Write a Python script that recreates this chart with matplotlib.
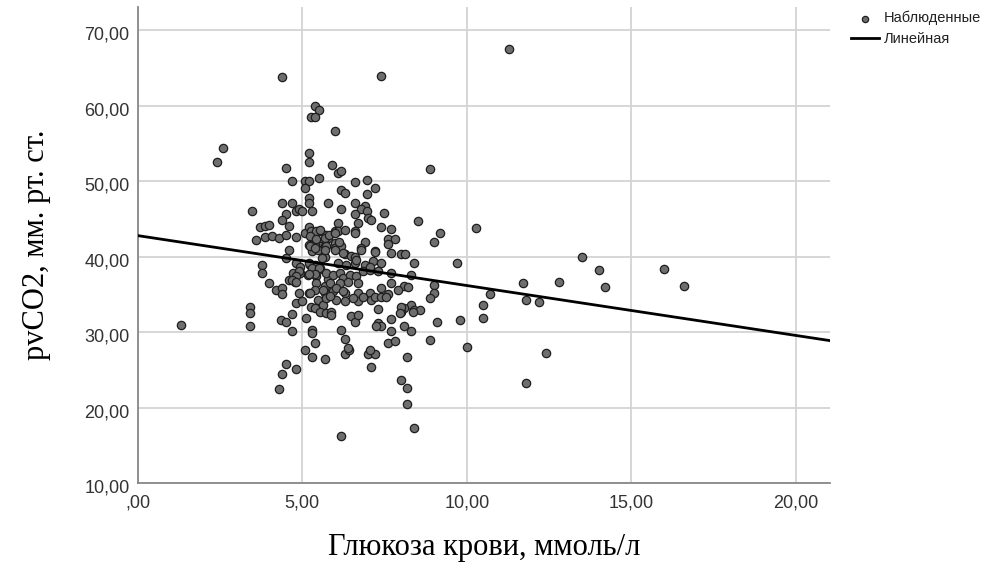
import numpy as np
import matplotlib
matplotlib.use("Agg")
import matplotlib.pyplot as plt
from matplotlib.ticker import FuncFormatter
from matplotlib.transforms import ScaledTranslation

# blood glucose, mmol/l
glucose = [
    1.30, 2.40, 2.60, 3.40, 3.40, 3.40, 3.48, 3.58, 3.70, 3.86, 3.99, 3.78, 3.78, 3.88, 4.09, 3.99,
    4.19, 4.39, 4.39, 4.29, 4.49, 4.80, 4.39, 7.40, 11.29, 5.40, 5.51, 5.27, 5.40, 5.99, 5.19, 5.19,
    4.49, 5.89, 6.09, 6.19, 5.50, 5.09, 5.19, 4.70, 5.09, 6.59, 6.98, 7.20, 6.98, 6.19, 6.30, 8.89,
    4.39, 4.70, 5.19, 5.19, 5.79, 6.19, 6.59, 6.89, 6.79, 6.98, 7.49, 4.49, 4.80, 4.90, 5.00, 5.29,
    4.39, 6.59, 6.69, 6.99, 7.10, 8.50, 7.40, 7.68, 9.19, 8.99, 10.29, 6.09, 5.98, 6.08, 6.29, 6.59,
    6.59, 5.53, 5.73, 5.78, 5.63, 5.53, 5.68, 5.98, 5.98, 6.18, 6.89, 6.79, 7.20, 7.60, 7.81, 7.60,
    7.70, 8.01, 8.11, 6.29, 6.49, 6.59, 8.38, 9.69, 8.30, 8.10, 8.99, 8.99, 8.89, 11.70, 12.79, 13.49,
    14.00, 14.20, 15.99, 16.59, 10.69, 11.80, 12.19, 10.50, 10.50, 9.79, 9.09, 8.30, 8.10, 8.00, 8.38, 8.59,
    8.10, 8.30, 8.89, 9.99, 12.39, 8.19, 8.01, 8.19, 8.19, 8.38, 11.79, 6.19, 4.49, 4.39, 4.80, 4.29,
    5.09, 5.39, 5.29, 5.70, 6.29, 6.29, 6.41, 6.99, 7.20, 7.10, 7.60, 7.81, 4.36, 4.49, 4.70, 4.70,
    4.80, 4.90, 5.00, 5.20, 5.10, 5.30, 5.30, 4.59, 4.49, 4.82, 4.92, 4.71, 4.61, 4.77, 4.92, 5.22,
    5.37, 5.47, 5.17, 5.43, 5.43, 5.37, 5.22, 5.47, 5.63, 5.68, 5.27, 5.37, 5.53, 5.73, 5.68, 5.78,
    5.68, 5.98, 6.79, 7.20, 6.08, 6.34, 6.59, 6.89, 7.15, 7.40, 5.53, 5.73, 5.93, 6.13, 6.23, 6.44,
    6.64, 6.84, 7.05, 7.30, 7.70, 5.83, 6.13, 6.39, 6.69, 5.63, 5.93, 6.29, 6.69, 7.05, 7.40, 7.70,
    7.91, 8.21, 5.73, 6.03, 6.29, 6.69, 7.10, 7.20, 7.40, 7.60, 5.88, 5.88, 7.30, 8.01, 7.96, 8.36,
    6.49, 6.59, 6.69, 7.70, 7.30, 7.40, 7.25, 6.18, 7.70, 6.39, 7.05, 4.59, 5.09, 5.29, 5.19, 5.30,
    5.19, 5.40, 5.29, 5.70, 5.80, 6.00, 6.10, 5.47, 5.60, 5.19, 5.29, 5.50, 5.40, 5.19, 4.90, 4.80,
    4.70, 4.80, 6.24, 6.64, 7.05, 5.83, 6.03, 6.24, 6.54, 6.84, 7.55, 5.27, 5.43, 5.53, 5.22, 5.43,
    5.73, 5.22, 5.37, 5.68,
]

# venous pCO2, mm Hg
pco2 = [
    31.0, 52.5, 54.4, 33.3, 32.5, 30.8, 46.1, 42.2, 44.0, 44.1, 44.2, 38.9, 37.9, 42.6, 42.8, 36.5,
    35.6, 35.8, 35.0, 42.5, 42.9, 42.6, 63.8, 63.9, 67.6, 60.0, 59.4, 58.5, 58.5, 56.7, 53.7, 52.6,
    51.8, 52.1, 51.1, 51.4, 50.4, 50.0, 50.0, 50.1, 49.1, 49.9, 50.2, 49.1, 48.3, 48.9, 48.5, 51.6,
    47.1, 47.1, 47.8, 47.1, 47.1, 46.3, 47.1, 46.7, 46.3, 46.1, 45.8, 45.7, 46.1, 46.3, 46.0, 46.0,
    44.9, 45.7, 44.5, 45.1, 44.9, 44.7, 43.9, 43.7, 43.1, 42.0, 43.8, 44.5, 43.4, 43.4, 43.6, 43.4,
    43.1, 43.4, 42.9, 42.5, 41.8, 41.4, 41.4, 41.8, 41.2, 41.4, 42.0, 41.2, 40.8, 42.3, 42.3, 41.7,
    40.5, 40.4, 40.4, 40.3, 40.1, 40.0, 39.2, 39.2, 37.6, 36.1, 36.2, 35.2, 34.5, 36.5, 36.6, 39.9,
    38.2, 36.0, 38.4, 36.1, 35.0, 34.2, 34.0, 33.6, 31.9, 31.6, 31.4, 33.6, 33.2, 32.7, 32.9, 33.0,
    30.8, 30.2, 28.9, 28.0, 27.3, 26.7, 23.6, 22.6, 20.5, 17.3, 23.2, 16.3, 25.8, 24.5, 25.1, 22.5,
    27.7, 28.6, 26.7, 26.5, 29.1, 27.1, 27.7, 27.1, 27.1, 25.4, 28.6, 28.8, 31.6, 31.4, 32.4, 30.1,
    33.8, 35.2, 34.1, 35.2, 31.9, 30.3, 29.9, 40.9, 39.8, 39.2, 38.7, 37.8, 36.9, 36.7, 37.8, 38.9,
    38.9, 38.3, 37.6, 37.4, 36.5, 35.6, 35.2, 34.3, 33.6, 35.2, 33.4, 33.2, 32.7, 32.5, 36.1, 37.0,
    40.0, 40.9, 40.9, 40.6, 39.2, 38.9, 39.2, 38.9, 39.4, 39.2, 38.5, 37.8, 37.6, 37.8, 37.2, 37.6,
    37.4, 38.1, 38.3, 38.1, 37.8, 36.5, 36.5, 36.7, 36.5, 35.6, 35.4, 35.2, 35.2, 35.2, 35.8, 36.5,
    35.6, 36.0, 34.5, 34.3, 34.1, 34.1, 34.3, 34.7, 34.7, 35.0, 32.7, 32.3, 33.1, 33.4, 32.5, 32.7,
    32.1, 31.4, 32.3, 31.7, 31.2, 30.8, 30.8, 30.3, 30.1, 27.9, 27.7, 44.1, 43.1, 43.3, 44.0, 42.3,
    41.6, 41.6, 40.7, 42.5, 42.9, 43.1, 42.0, 40.9, 39.8, 39.2, 38.5, 38.5, 37.7, 37.7, 38.1, 37.4,
    36.9, 36.6, 40.5, 39.6, 38.7, 34.8, 35.8, 35.5, 34.5, 34.6, 34.7, 43.4, 43.4, 43.6, 42.7, 42.3,
    41.4, 41.4, 41.2, 40.9,
]

# linear fit line
fit_intercept = 42.8
fit_slope = -0.662

x_ticks = [0, 5, 10, 15, 20]
y_ticks = [10, 20, 30, 40, 50, 60, 70]


def spss_fmt(v, pos=None):
    s = "%.2f" % v
    s = s.replace(".", ",")
    if s.startswith("0,"):
        s = s[1:]
    return s


fig = plt.figure(figsize=(9.91, 5.68), dpi=100)
ax = fig.add_axes([0.139, 0.1496, 0.6985, 0.838])

ax.set_xlim(0, 21.03)
ax.set_ylim(10, 73.1)
ax.set_xticks(x_ticks)
ax.set_yticks(y_ticks)
ax.xaxis.set_major_formatter(FuncFormatter(spss_fmt))
ax.yaxis.set_major_formatter(FuncFormatter(spss_fmt))

ax.grid(True, color="#d3d3d3", linewidth=1.3, zorder=0)
ax.set_axisbelow(True)
for side in ["top", "right"]:
    ax.spines[side].set_visible(False)
for side in ["left", "bottom"]:
    ax.spines[side].set_color("#888888")
    ax.spines[side].set_linewidth(1.3)
ax.tick_params(length=0, labelsize=13, labelcolor="#333333")
ax.tick_params(axis="x", pad=8)
ax.tick_params(axis="y", pad=6)
for lab in ax.get_xticklabels() + ax.get_yticklabels():
    lab.set_fontfamily("Liberation Sans")
for lab in ax.get_yticklabels():
    lab.set_transform(lab.get_transform() + ScaledTranslation(0, -3 / 100, fig.dpi_scale_trans))

pts = ax.scatter(glucose, pco2, s=36, c="#6e6e6e", edgecolors="#1e1e1e",
                 linewidths=0.9, zorder=3, label="Наблюденные")

xs = np.array([0, 21.03])
line, = ax.plot(xs, fit_intercept + fit_slope * xs, color="black", linewidth=2.0,
                zorder=4, label="Линейная")

leg = fig.legend(handles=[pts, line], loc="upper left", bbox_to_anchor=(0.848, 1.0),
                 frameon=False, fontsize=10.5, handlelength=1.9, handletextpad=0.3,
                 labelspacing=0.45, borderaxespad=0.35, markerscale=0.75)
for t in leg.get_texts():
    t.set_fontfamily("Liberation Sans")
    t.set_color("#222222")

ax.set_xlabel("Глюкоза крови, ммоль/л", fontsize=22, fontfamily="Liberation Serif",
              labelpad=16)
ax.set_ylabel("pvCO2, мм. рт. ст.", fontsize=22, fontfamily="Liberation Serif",
              labelpad=24)

fig.savefig("out.png", dpi=100)
